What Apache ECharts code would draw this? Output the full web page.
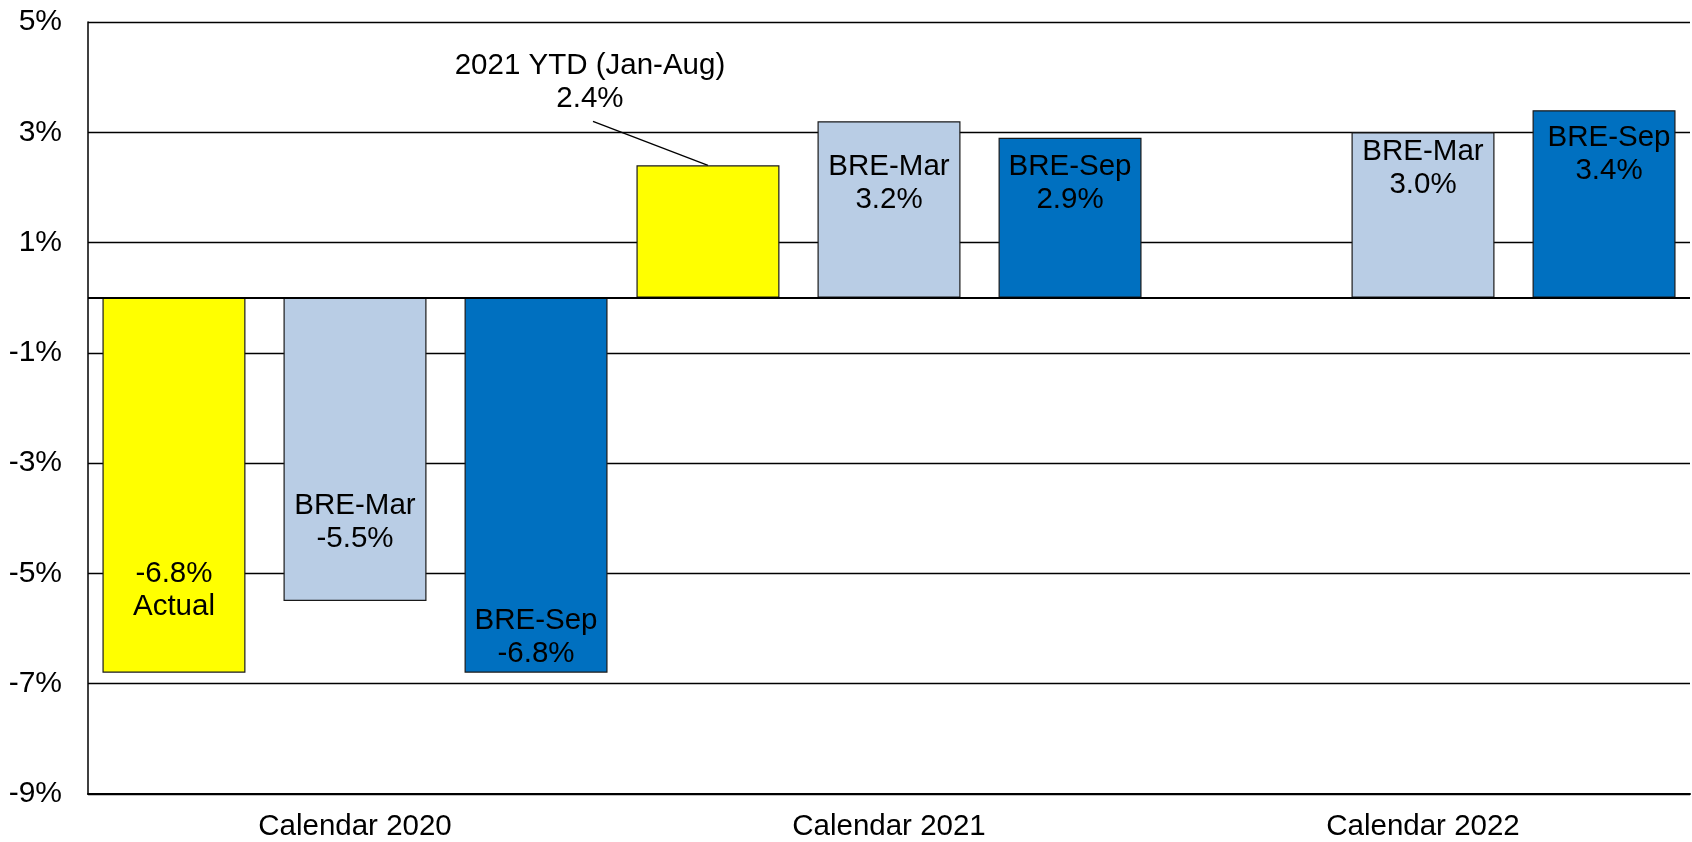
<!DOCTYPE html>
<html>
<head>
<meta charset="utf-8">
<script src="https://cdn.jsdelivr.net/npm/echarts@6/dist/echarts.min.js"></script>
<style>
html,body{margin:0;padding:0;background:#fff;}
#chart{width:1692px;height:842px;}
</style>
</head>
<body>
<div id="chart"></div>
<script>
const categories = ['Calendar 2020', 'Calendar 2021', 'Calendar 2022'];
const actualYTD = [-6.8, 2.4, null];
const breMar = [-5.5, 3.2, 3.0];
const breSep = [-6.8, 2.9, 3.4];
const yTicks = { min: -9, max: 5, step: 2 };

const FONT = '"Liberation Sans", Arial, sans-serif';
const pct = v => v.toFixed(1) + '%';

// label placement (style only)
const yellowLabelOffsets = [[0, 105], [-118, -45], [0, 0]];
const marLabelOffsets = [[0, 73], [0, -26], [0, -47]];
const sepLabelOffsets = [[0, 152], [0, -34], [5, -50]];

function buildData(values, offsets, textFn, posFn) {
  return values.map((v, i) => ({
    value: v,
    label: {
      position: posFn ? posFn(i) : 'inside',
      offset: offsets[i],
      formatter: v == null ? '' : textFn(v, i)
    }
  }));
}

const labelBase = {
  show: true,
  color: '#000',
  fontFamily: FONT,
  fontSize: 29.5,
  lineHeight: 33,
  align: 'center'
};
const itemBase = { borderColor: '#1a1a1a', borderWidth: 1.2 };

const chart = echarts.init(document.getElementById('chart'));
chart.setOption({
  animation: false,
  backgroundColor: '#fff',
  grid: { left: 88, right: 2, top: 22, bottom: 47, containLabel: false },
  xAxis: {
    type: 'category',
    data: categories,
    axisLine: { onZero: false, lineStyle: { color: '#000', width: 2 } },
    axisTick: { show: false },
    axisLabel: { color: '#000', fontFamily: FONT, fontSize: 29.5, margin: 18 }
  },
  yAxis: {
    type: 'value',
    min: yTicks.min, max: yTicks.max, interval: yTicks.step,
    axisLine: { show: true, lineStyle: { color: '#000', width: 1.5 } },
    axisTick: { show: false },
    splitLine: { show: true, lineStyle: { color: '#000', width: 1.3 } },
    axisLabel: { color: '#000', fontFamily: FONT, fontSize: 30, margin: 26, formatter: '{value}%' }
  },
  series: [
    {
      type: 'bar', name: 'Actual / YTD', barWidth: 143, barGap: '26.6%',
      itemStyle: Object.assign({ color: '#FFFF00' }, itemBase),
      label: labelBase,
      data: buildData(actualYTD, yellowLabelOffsets,
        (v, i) => i === 0 ? pct(v) + '\nActual' : '2021 YTD (Jan-Aug)\n' + pct(v),
        i => i === 1 ? 'top' : 'inside'),
      markLine: {
        silent: true, symbol: 'none', label: { show: false },
        lineStyle: { color: '#000', width: 2, type: 'solid' },
        data: [{ yAxis: 0 }]
      }
    },
    {
      type: 'bar', name: 'BRE-Mar', barWidth: 143, barGap: '26.6%',
      itemStyle: Object.assign({ color: '#B9CDE5' }, itemBase),
      label: labelBase,
      data: buildData(breMar, marLabelOffsets, v => 'BRE-Mar\n' + pct(v))
    },
    {
      type: 'bar', name: 'BRE-Sep', barWidth: 143, barGap: '26.6%',
      itemStyle: Object.assign({ color: '#0070C0' }, itemBase),
      label: labelBase,
      data: buildData(breSep, sepLabelOffsets, v => 'BRE-Sep\n' + pct(v))
    }
  ]
});

// leader line from annotation to the 2021 YTD bar top
(function () {
  let x, y;
  try {
    const lay = chart.getModel().getSeriesByIndex(0).getData().getItemLayout(1);
    x = lay.x + lay.width / 2;
    y = Math.min(lay.y, lay.y + lay.height);
  } catch (e) {
    const c = chart.convertToPixel({ xAxisIndex: 0, yAxisIndex: 0 }, [1, actualYTD[1]]);
    x = c[0] - 181; y = c[1];
  }
  chart.setOption({
    graphic: [{
      type: 'line', silent: true,
      shape: { x1: x - 115, y1: y - 44, x2: x, y2: y },
      style: { stroke: '#000', lineWidth: 1.3 }
    }]
  });
})();
</script>
</body>
</html>
